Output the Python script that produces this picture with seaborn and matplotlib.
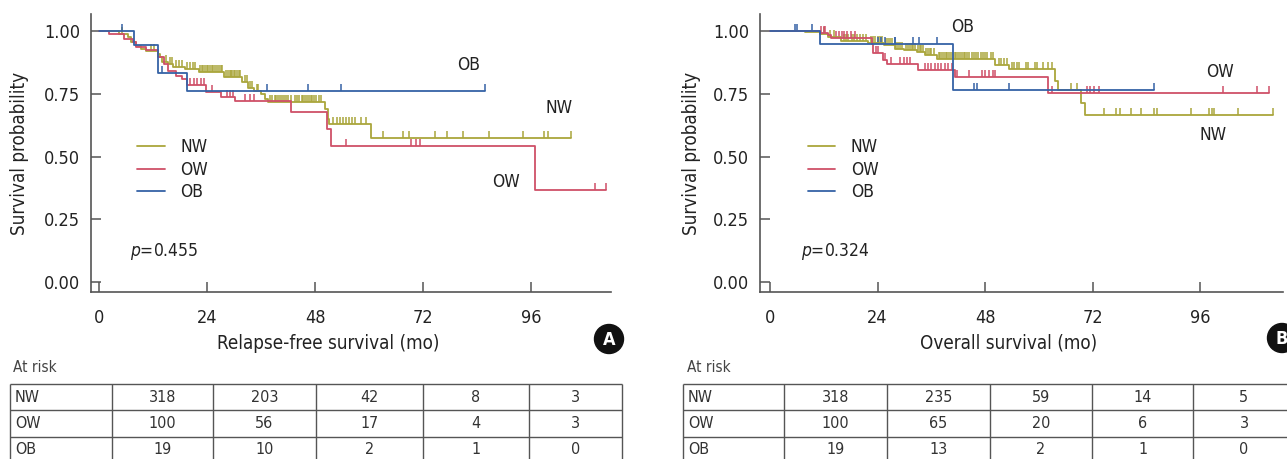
import numpy as np
import pandas as pd
import matplotlib
matplotlib.use("Agg")
import matplotlib.pyplot as plt
import seaborn as sns
from matplotlib import font_manager
from matplotlib.patches import Circle

# ---- data ----
groups = ["NW", "OW", "OB"]
colors = {"NW": "#aaa63c", "OW": "#cf5068", "OB": "#3562a6"}

# relapse-free survival: step times, survival after each step, censor times
rfs_nw_t = [4.5, 6.4, 7.2, 8.2, 9.4, 10.5, 13.0, 13.5, 14.0, 15.4, 16.5, 19.1, 22.1,
            27.8, 31.8, 33.2, 34.5, 35.9, 36.8, 37.6, 50.2, 50.9, 51.2, 60.5]
rfs_nw_s = [0.99, 0.975, 0.955, 0.94, 0.928, 0.92, 0.908, 0.895, 0.877, 0.867, 0.857, 0.849, 0.838,
            0.817, 0.797, 0.774, 0.76, 0.75, 0.73, 0.718, 0.688, 0.65, 0.63, 0.575]
rfs_nw_cens = [5.0, 11.5, 12.2, 14.8, 15.8, 16.1, 17.0, 17.8, 18.5, 19.5, 20.2, 20.8, 21.4,
               22.4, 22.8, 23.2, 23.6, 24.0, 24.3, 24.6, 25.0, 25.4, 25.8, 26.2, 26.6, 27.0, 27.4,
               28.2, 28.6, 29.0, 29.3, 29.6, 30.0, 30.3, 30.6, 31.0, 31.4, 32.4, 32.8, 33.6, 34.0,
               35.0, 35.4, 38.0, 38.5, 39.0, 39.4, 39.8, 40.2, 40.6, 41.0, 41.5, 42.0, 42.6, 43.5,
               44.0, 44.5, 45.0, 45.4, 45.8, 46.2, 46.6, 47.0, 47.4, 47.8, 48.3, 48.8, 49.4,
               52.0, 52.8, 53.5, 54.2, 54.8, 55.5, 56.2, 56.8, 58.2, 59.4,
               63.1, 67.5, 68.9, 74.7, 77.3, 80.9, 86.7, 94.3, 99.0, 99.7, 105.0]
rfs_ow_t = [2.3, 5.5, 7.6, 8.3, 10.5, 13.0, 14.5, 15.3, 17.0, 18.5, 19.6, 23.8, 27.0, 30.3,
            42.7, 50.7, 51.5, 97.0]
rfs_ow_s = [0.987, 0.97, 0.955, 0.935, 0.925, 0.895, 0.87, 0.84, 0.82, 0.81, 0.785, 0.757, 0.738, 0.72,
            0.677, 0.608, 0.542, 0.365]
rfs_ow_cens = [20.3, 21.0, 21.8, 22.6, 23.3, 25.0, 28.5, 29.2, 29.8, 32.5, 33.5, 34.5,
               54.9, 69.3, 70.5, 71.4, 110.3, 112.6]
rfs_ob_t = [7.8, 13.1, 19.6]
rfs_ob_s = [0.946, 0.833, 0.76]
rfs_ob_cens = [5.1, 14.0, 37.4, 46.4, 53.7, 85.8]

# overall survival
os_nw_t = [7.9, 11.1, 12.9, 15.8, 21.9, 25.5, 27.8, 30.0, 32.7, 34.5, 37.2, 50.3, 53.4,
           63.5, 64.2, 69.3, 70.2]
os_nw_s = [0.996, 0.99, 0.976, 0.96, 0.954, 0.946, 0.93, 0.923, 0.917, 0.903, 0.888, 0.866, 0.847,
           0.80, 0.765, 0.715, 0.664]
os_nw_cens = [12.0, 13.5, 14.2, 16.5, 17.0, 17.5, 18.2, 18.8, 19.5, 20.2, 20.8, 21.4,
              22.5, 23.0, 23.5, 24.0, 24.5, 25.0, 26.0, 26.4, 26.8, 27.2, 28.2, 28.6, 29.0, 29.4,
              30.4, 30.8, 31.2, 31.6, 32.0, 32.4, 33.0, 33.4, 33.8, 34.2, 34.8, 35.2, 35.6, 36.0, 36.5,
              37.6, 38.0, 38.4, 38.8, 39.2, 39.6, 40.0, 40.4, 40.8, 41.2, 41.6, 42.0, 42.4, 42.8,
              43.2, 43.6, 44.0, 44.5, 45.0, 45.5, 46.0, 46.5, 47.0, 47.5, 48.0, 48.5, 49.2, 49.8,
              51.0, 51.6, 52.2, 52.8, 54.0, 54.5, 55.0, 55.5, 57.0, 57.5, 59.0, 59.5, 61.0, 62.0, 63.0,
              67.2, 68.5, 74.5, 77.1, 78.0, 80.5, 82.7, 85.6, 86.4, 93.9, 98.0, 98.5, 99.0,
              104.3, 112.2]
os_ow_t = [11.1, 13.0, 13.7, 22.7, 23.1, 25.3, 26.1, 33.0, 41.2, 62.0]
os_ow_s = [0.993, 0.983, 0.974, 0.947, 0.914, 0.885, 0.868, 0.845, 0.816, 0.752]
os_ow_cens = [11.5, 12.0, 12.4, 14.8, 15.5, 16.0, 16.5, 17.3, 18.0, 19.0, 23.6, 24.2, 25.6,
              27.0, 29.0, 29.8, 30.5, 31.2, 34.5, 35.3, 36.0, 36.8, 37.5, 38.2, 39.0, 39.8, 40.5,
              41.7, 44.4, 47.3, 48.0, 48.9, 49.8, 50.3, 62.8, 70.6, 71.3, 72.3, 73.4,
              101.1, 108.7, 111.2]
os_ob_t = [11.1, 40.8]
os_ob_s = [0.95, 0.765]
os_ob_cens = [5.5, 6.1, 9.5, 24.1, 24.8, 25.7, 27.8, 28.0, 31.9, 33.2, 37.2, 45.5, 46.2, 53.4, 85.7]

xticks = [0, 24, 48, 72, 96]
rfs_risk = {"NW": [318, 203, 42, 8, 3], "OW": [100, 56, 17, 4, 3], "OB": [19, 10, 2, 1, 0]}
os_risk = {"NW": [318, 235, 59, 14, 5], "OW": [100, 65, 20, 6, 3], "OB": [19, 13, 2, 1, 0]}

# ---- style ----
sns.set_style("ticks")
names = {f.name for f in font_manager.fontManager.ttflist}
if "Liberation Sans Narrow" in names:
    fam = "Liberation Sans Narrow"
else:
    fam = "DejaVu Sans"
    plt.rcParams["font.stretch"] = "condensed"
plt.rcParams["font.family"] = [fam, "DejaVu Sans"]
plt.rcParams["mathtext.fontset"] = "custom"
plt.rcParams["mathtext.rm"] = fam
plt.rcParams["mathtext.it"] = fam + ":italic"

txt = "#222222"
gray = "#555555"

fig = plt.figure(figsize=(12.87, 4.59), dpi=100)
ax1 = fig.add_axes([91 / 1287, 1 - 292 / 459, 520 / 1287, 278 / 459])
ax2 = fig.add_axes([760 / 1287, 1 - 292 / 459, 523 / 1287, 278 / 459])


def km_panel(ax, curves, xlim):
    for g in groups:
        t, s, cens = curves[g]
        tt = [0.0] + t + [max(cens)]
        ss = [1.0] + s + [s[-1]]
        df = pd.DataFrame({"time": tt, "surv": ss})
        sns.lineplot(data=df, x="time", y="surv", drawstyle="steps-post", estimator=None,
                     sort=False, color=colors[g], lw=1.3, label=g, ax=ax)
        idx = np.searchsorted(tt, cens, side="right") - 1
        cy = np.array(ss)[idx]
        sns.scatterplot(x=cens, y=cy, marker=2, s=28, color=colors[g], linewidth=1.1,
                        legend=False, ax=ax)
    ax.set_xlim(*xlim)
    ax.set_ylim(-0.04, 1.068)
    ax.set_xticks(xticks)
    ax.set_yticks([0, 0.25, 0.5, 0.75, 1.0])
    ax.set_yticklabels(["0.00", "0.25", "0.50", "0.75", "1.00"])
    sns.despine(ax=ax)
    for sp in ["left", "bottom"]:
        ax.spines[sp].set_color(gray)
        ax.spines[sp].set_linewidth(1.2)
    ax.tick_params(axis="both", direction="in", length=7.5, width=1.1, color=gray,
                   labelsize=13, labelcolor=txt)
    ax.tick_params(axis="x", pad=12)
    ax.tick_params(axis="y", pad=8)
    ax.set_ylabel("Survival probability", fontsize=13.5, color=txt)
    ax.legend(loc="upper left", bbox_to_anchor=(8.4, 0.572), bbox_transform=ax.transData,
              frameon=False, fontsize=12.5, handlelength=1.6, handletextpad=0.9,
              labelspacing=0.25, borderpad=0, borderaxespad=0, labelcolor=txt)


km_panel(ax1, {"NW": (rfs_nw_t, rfs_nw_s, rfs_nw_cens),
               "OW": (rfs_ow_t, rfs_ow_s, rfs_ow_cens),
               "OB": (rfs_ob_t, rfs_ob_s, rfs_ob_cens)}, (-1.8, 113.8))
km_panel(ax2, {"NW": (os_nw_t, os_nw_s, os_nw_cens),
               "OW": (os_ow_t, os_ow_s, os_ow_cens),
               "OB": (os_ob_t, os_ob_s, os_ob_cens)}, (-2.2, 114.4))

ax1.set_xlabel("Relapse-free survival (mo)", fontsize=13.5, color=txt)
ax1.xaxis.set_label_coords(0.456, -0.15)
ax2.set_xlabel("Overall survival (mo)", fontsize=13.5, color=txt)
ax2.xaxis.set_label_coords(0.475, -0.15)
ax1.yaxis.set_label_coords(-0.12, 0.5)
ax2.yaxis.set_label_coords(-0.113, 0.5)

# curve labels and p values
for ax, labs in [(ax1, [("OB", 82.1, 0.864), ("NW", 102.3, 0.694), ("OW", 90.4, 0.397)]),
                 (ax2, [("OB", 43.0, 1.016), ("OW", 100.3, 0.837), ("NW", 98.8, 0.586)])]:
    for lab, x, y in labs:
        ax.text(x, y, lab, fontsize=12.5, color=txt, ha="center", va="center")
ax1.text(6.9, 0.12, r"$p$=0.455", fontsize=12.5, color=txt, ha="left", va="center")
ax2.text(7.0, 0.12, r"$p$=0.324", fontsize=12.5, color=txt, ha="left", va="center")

# ---- overlay in pixel coordinates for tables and panel badges ----
ov = fig.add_axes([0, 0, 1, 1], zorder=-1)
ov.set_xlim(0, 1287)
ov.set_ylim(459, 0)
ov.axis("off")


def risk_table(edges, risk, at_x):
    top, rh = 384.0, 26.3
    ov.text(at_x, 368, "At risk", fontsize=11, color="#444444", ha="left", va="center")
    for i in range(4):
        ov.hlines(top + i * rh, edges[0], edges[-1], color=gray, lw=1.0)
    ov.vlines(edges, top, 470, color=gray, lw=1.0)
    for i, g in enumerate(groups):
        yc = top + rh * (i + 0.5)
        ov.text(edges[0] + 5, yc, g, fontsize=11.5, color="#333333", ha="left", va="center")
        for j, v in enumerate(risk[g]):
            xc = (edges[j + 1] + edges[j + 2]) / 2
            ov.text(xc, yc, str(v), fontsize=11.5, color="#333333", ha="center", va="center")


risk_table([10, 112, 213, 316, 423, 529, 622], rfs_risk, 13)
risk_table([683, 784, 887, 990, 1092, 1193, 1295], os_risk, 687)

for lab, cx, cy in [("A", 609, 339), ("B", 1282, 338)]:
    ov.add_patch(Circle((cx, cy), 14.5, color="#111111"))
    ov.text(cx, cy + 1, lab, fontsize=13, fontweight="bold", color="white",
            ha="center", va="center", family="DejaVu Sans")

fig.savefig("out.png", dpi=100)
